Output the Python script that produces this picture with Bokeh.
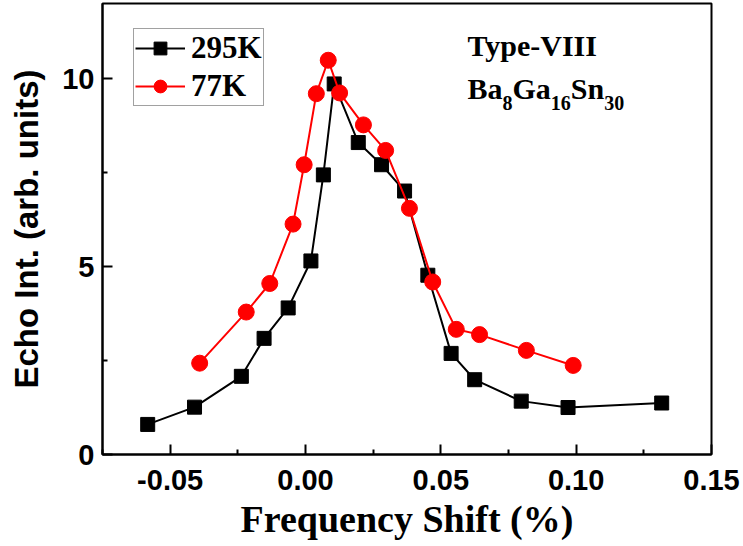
from bokeh.plotting import figure
from bokeh.models import FixedTicker, Legend, LegendItem, Label, Range1d
from bokeh.embed import file_html
from bokeh.resources import INLINE

# data
x_295 = [-0.0583, -0.0410, -0.0237, -0.0153, -0.0064, 0.0020, 0.0066, 0.0106, 0.0195,
         0.0281, 0.0366, 0.0452, 0.0538, 0.0625, 0.0797, 0.0970, 0.1316]
y_295 = [0.80, 1.26, 2.08, 3.09, 3.90, 5.15, 7.44, 9.86, 8.30,
         7.71, 7.01, 4.77, 2.69, 1.99, 1.42, 1.25, 1.37]
x_77 = [-0.0391, -0.0219, -0.0132, -0.0046, -0.0005, 0.0040, 0.0084, 0.0126, 0.0214,
        0.0296, 0.0384, 0.0470, 0.0557, 0.0643, 0.0816, 0.0989]
y_77 = [2.43, 3.79, 4.55, 6.13, 7.71, 9.60, 10.49, 9.62, 8.77,
        8.09, 6.55, 4.59, 3.33, 3.19, 2.77, 2.37]
x_ticks = [-0.05, 0.0, 0.05, 0.10, 0.15]
x_tick_labels = ["-0.05", "0.00", "0.05", "0.10", "0.15"]
y_ticks = [0, 5, 10]
series_labels = ["295K", "77K"]

p = figure(width=743, height=546, output_backend="svg", toolbar_location=None,
           x_range=Range1d(-0.075, 0.15), y_range=Range1d(0, 12),
           min_border_left=102, min_border_right=32, min_border_top=3, min_border_bottom=92)
p.xgrid.visible = False
p.ygrid.visible = False
p.outline_line_color = "black"
p.outline_line_width = 2

sans = "Liberation Sans"
serif = "Liberation Serif"

p.xaxis.ticker = FixedTicker(ticks=x_ticks, minor_ticks=[-0.075, -0.025, 0.025, 0.075, 0.125])
p.xaxis.major_label_overrides = {t: l for t, l in zip(x_ticks, x_tick_labels)}
p.yaxis.ticker = FixedTicker(ticks=y_ticks, minor_ticks=[2.5, 7.5])
for ax in (p.xaxis[0], p.yaxis[0]):
    ax.major_tick_in = 10
    ax.major_tick_out = 0
    ax.minor_tick_in = 5
    ax.minor_tick_out = 0
    ax.axis_line_width = 2
    ax.major_tick_line_width = 2
    ax.minor_tick_line_width = 2
    ax.major_label_text_font = sans
    ax.major_label_text_font_style = "bold"
    ax.major_label_text_font_size = "29px"
    ax.major_label_text_color = "black"
    ax.axis_label_text_color = "black"
    ax.axis_label_text_font_style = "bold"

p.xaxis.axis_label = "Frequency Shift (%)"
p.xaxis.axis_label_text_font = serif
p.xaxis.axis_label_text_font_size = "38px"
p.xaxis.major_label_standoff = 15
p.xaxis.axis_label_standoff = 5

p.yaxis.axis_label = "Echo Int. (arb. units)"
p.yaxis.axis_label_text_font = sans
p.yaxis.axis_label_text_font_size = "33px"
p.yaxis.major_label_standoff = 8
p.yaxis.axis_label_standoff = 14

l1 = p.line(x_295, y_295, line_color="black", line_width=2)
m1 = p.scatter(x_295, y_295, marker="square", size=14, fill_color="black", line_color="black")
l2 = p.line(x_77, y_77, line_color="red", line_width=2)
m2 = p.scatter(x_77, y_77, marker="circle", size=16, fill_color="red", line_color="red")

legend = Legend(items=[LegendItem(label=series_labels[0], renderers=[l1, m1]),
                       LegendItem(label=series_labels[1], renderers=[l2, m2])],
                location=(31, 348),
                label_text_font=serif, label_text_font_style="bold",
                label_text_font_size="31px", label_text_color="black",
                border_line_color="#444444", border_line_width=1,
                glyph_width=50, glyph_height=32, label_height=32,
                spacing=2, padding=1, margin=0, label_standoff=6)
p.add_layout(legend)

lab_style = dict(x_units="screen", y_units="screen", text_font=serif,
                 text_font_style="bold", text_color="black")
p.add_layout(Label(x=365, y=393, text="Type-VIII", text_font_size="30px", **lab_style))
pieces = [("Ba", 30, 0), ("8", 20, -5), ("Ga", 30, 0), ("16", 20, -5), ("Sn", 30, 0), ("30", 20, -5)]
widths = {"Ba": 35.0, "8": 10.0, "Ga": 38.3, "16": 20.0, "Sn": 33.4, "30": 20.0}
xx = 365
for txt, fs, dy in pieces:
    p.add_layout(Label(x=xx, y=350 + dy, text=txt, text_font_size=f"{fs}px", **lab_style))
    xx += widths[txt]

open("out.html", "w").write(file_html(p, INLINE))
